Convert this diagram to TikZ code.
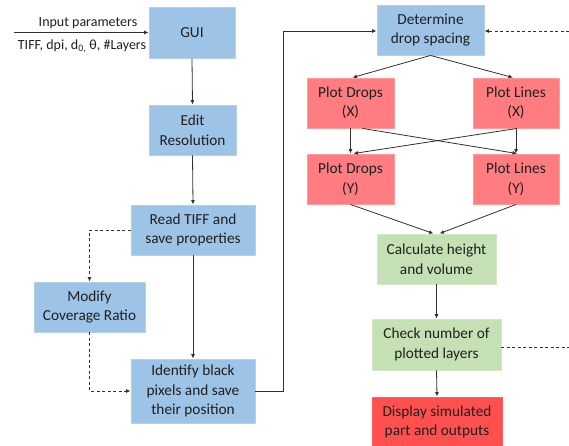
\documentclass[tikz,border=0pt]{standalone}
\usepackage{fontspec}
\setmainfont{Carlito}
\usetikzlibrary{arrows.meta}
\definecolor{bluef}{HTML}{9DC3E6}
\definecolor{blued}{HTML}{B4D1EC}
\definecolor{redf}{HTML}{FF7C80}
\definecolor{redd}{HTML}{FF9A9D}
\definecolor{reds}{HTML}{FF5050}
\definecolor{greenf}{HTML}{C5E0B4}
\definecolor{greend}{HTML}{D3E8C5}
\definecolor{txt}{HTML}{202020}
\definecolor{ln}{HTML}{303030}
\tikzset{
  box/.style={draw, line width=0.9pt, align=center, text=txt, inner sep=0pt,
    font=\fontsize{15.3}{19.5}\selectfont},
  bluebox/.style={box, fill=bluef, draw=blued},
  redbox/.style={box, fill=redf, draw=redd},
  redsbox/.style={box, fill=reds, draw=reds!90!white},
  greenbox/.style={box, fill=greenf, draw=greend},
  conn/.style={draw=ln, line width=0.8pt, -{Latex[length=4.5pt,width=4pt]}},
  dconn/.style={conn, dashed, dash pattern=on 3pt off 2.5pt},
  dline/.style={draw=ln, line width=0.8pt, dashed, dash pattern=on 3pt off 2.5pt},
  lbl/.style={text=txt, inner sep=0pt, font=\fontsize{14}{16}\selectfont}
}
\begin{document}
\begin{tikzpicture}[x=1pt,y=-1pt]
\useasboundingbox (0,0) rectangle (569,446);
% nodes
\node[bluebox, minimum width=86pt, minimum height=51pt] (gui) at (192,32.5) {GUI};
\node[bluebox, minimum width=87pt, minimum height=50pt] (edit) at (192.5,130) {Edit\\Resolution};
\node[bluebox, minimum width=124pt, minimum height=50pt] (read) at (193,230) {Read TIFF and\\save properties};
\node[bluebox, minimum width=111pt, minimum height=50pt] (mod) at (89.5,307) {Modify\\Coverage Ratio};
\node[bluebox, minimum width=124pt, minimum height=64pt] (ident) at (193,391) {Identify black\\pixels and save\\their position};
\node[bluebox, minimum width=107pt, minimum height=50pt] (det) at (430.5,30) {Determine\\drop spacing};
\node[redbox, minimum width=87pt, minimum height=50pt] (pdx) at (350.5,103) {Plot Drops\\(X)};
\node[redbox, minimum width=86pt, minimum height=50pt] (plx) at (516,103) {Plot Lines\\(X)};
\node[redbox, minimum width=87pt, minimum height=50pt] (pdy) at (350.5,179) {Plot Drops\\(Y)};
\node[redbox, minimum width=86pt, minimum height=50pt] (ply) at (516,179) {Plot Lines\\(Y)};
\node[greenbox, minimum width=119pt, minimum height=50pt] (calc) at (436.5,259) {Calculate height\\and volume};
\node[greenbox, minimum width=129pt, minimum height=51pt] (check) at (436.5,344.5) {Check number of\\plotted layers};
\node[redsbox, minimum width=130pt, minimum height=50pt] (disp) at (437,422) {Display simulated\\part and outputs};
% input
\coordinate (in) at (14,32.5);
\node[lbl, anchor=base] (ip) at (88,26.5) {Input parameters};
\node[lbl, anchor=base] (tiff) at (82,49.5) {TIFF, dpi, d\textsubscript{0,} θ, \#Layers};
\path[conn] (in) -- (gui.west);
% left column
\path[conn] (gui.south) -- (edit.north);
\path[conn] (edit.south) -- (read.north);
\path[conn] (read.south) -- (ident.north);
\path[dconn] (read.west) -| (mod.north);
\path[dconn] (mod.south) |- (ident.west);
% to determine
\coordinate (up) at (283,391);
\coordinate (upt) at (283,31);
\path[conn] (ident.east) -- (up) -- (upt) -- (det.west |- upt);
\coordinate (rin) at (569,31);
\path[dconn] (rin) -- (det.east |- rin);
% plots
\path[conn] (det.south) -- ([xshift=2pt]pdx.north);
\path[conn] (det.south) -- ([xshift=-3pt]plx.north);
\path[conn] (pdx.south) -- (pdy.north);
\path[conn] (plx.south) -- (ply.north);
\path[conn] ([xshift=12pt]pdx.south) -- ([xshift=1pt]ply.north);
\path[conn] ([xshift=1pt]plx.south) -- ([xshift=3pt]pdy.north);
\path[conn] (pdy.south) -- ([xshift=-3pt]calc.north);
\path[conn] (ply.south) -- ([xshift=3pt]calc.north);
\path[conn] (calc.south) -- (check.north);
\path[conn] (check.south) -- (disp.north);
\coordinate (rout) at (569,347);
\path[dline] (check.east |- rout) -- (rout);
\end{tikzpicture}
\end{document}
